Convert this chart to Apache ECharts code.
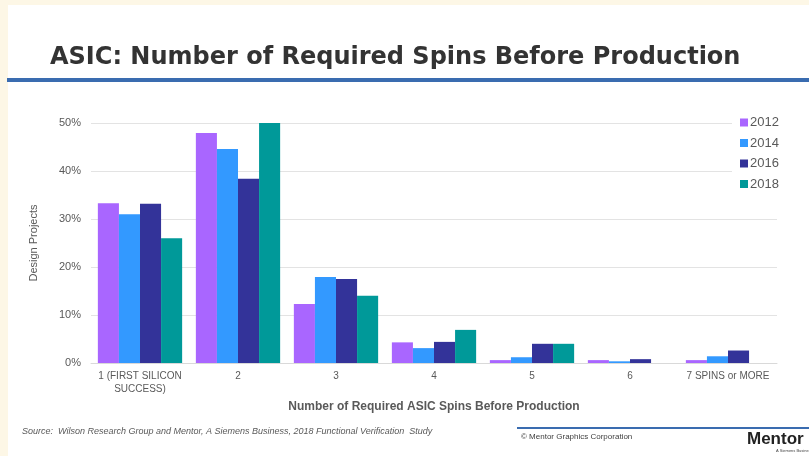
<!DOCTYPE html>
<html>
<head>
<meta charset="utf-8">
<script src="https://cdn.jsdelivr.net/npm/echarts@6/dist/echarts.min.js"></script>
<style>
  html, body { margin: 0; padding: 0; background: #fdf7e6; }
  #chart { width: 809px; height: 456px; }
</style>
</head>
<body>
<div id="chart"></div>
<script>
// Spins before production, share of design projects (%)
const categories = ['1 (FIRST SILICON\nSUCCESS)', '2', '3', '4', '5', '6', '7 SPINS or MORE'];
const years = ['2012', '2014', '2016', '2018'];
const values2012 = [33.3, 47.9, 12.3, 4.3, 0.6, 0.6, 0.6];
const values2014 = [31.0, 44.6, 17.9, 3.1, 1.2, 0.35, 1.4];
const values2016 = [33.2, 38.4, 17.5, 4.4, 4.0, 0.8, 2.6];
const values2018 = [26.0, 50.0, 14.0, 6.9, 4.0, 0, 0];
const yearColors = ['#a966ff', '#3399ff', '#333399', '#009999'];

const seriesValues = [values2012, values2014, values2016, values2018];

const chart = echarts.init(document.getElementById('chart'), null, { renderer: 'canvas' });

chart.setOption({
  backgroundColor: 'transparent',
  animation: false,
  graphic: [
    // slide area
    { type: 'rect', shape: { x: 8, y: 5, width: 801, height: 451 }, style: { fill: '#ffffff' }, z: -10 },
    // title rule
    { type: 'rect', shape: { x: 7, y: 78, width: 802, height: 4 }, style: { fill: '#3a6cb0' }, z: -5 },
    // footer rule
    { type: 'rect', shape: { x: 517, y: 427, width: 292, height: 2 }, style: { fill: '#3a6cb0' }, z: -5 },
    {
      type: 'text', left: 50, top: 46,
      style: {
        text: 'ASIC: Number of Required Spins Before Production',
        font: 'bold 24px "DejaVu Sans", Verdana, sans-serif', fill: '#333333'
      }
    },
    {
      type: 'text', left: 22, top: 427,
      style: {
        text: 'Source:  Wilson Research Group and Mentor, A Siemens Business, 2018 Functional Verification  Study',
        font: 'italic 9px "Liberation Sans", Arial, sans-serif', fill: '#595959'
      }
    },
    {
      type: 'text', left: 521, top: 433,
      style: {
        text: '© Mentor Graphics Corporation',
        font: '8px "Liberation Sans", Arial, sans-serif', fill: '#404040'
      }
    },
    {
      type: 'text', left: 747, top: 431,
      style: {
        text: 'Mentor',
        font: 'bold 17px "Liberation Sans", Arial, sans-serif', fill: '#222222'
      }
    },
    {
      type: 'text', left: 776, top: 449,
      style: {
        text: 'A Siemens Business',
        font: '4px "Liberation Sans", Arial, sans-serif', fill: '#444444'
      }
    }
  ],
  legend: {
    orient: 'vertical',
    left: 732, top: 110,
    data: years,
    itemWidth: 8, itemHeight: 8,
    itemGap: 7.5,
    icon: 'rect',
    backgroundColor: '#ffffff',
    padding: [6, 34, 6, 8],
    textStyle: { color: '#595959', fontSize: 13, fontFamily: '"Liberation Sans", Arial, sans-serif', padding: [0, 0, 0, -3] }
  },
  grid: { left: 91, right: 32, top: 123, bottom: 93, containLabel: false },
  xAxis: {
    type: 'category',
    data: categories,
    name: 'Number of Required ASIC Spins Before Production',
    nameLocation: 'middle',
    nameGap: 37,
    nameTextStyle: { color: '#595959', fontSize: 12, fontWeight: 'bold', fontFamily: '"Liberation Sans", Arial, sans-serif' },
    axisLine: { lineStyle: { color: '#d9d9d9' } },
    axisTick: { show: false },
    axisLabel: { color: '#595959', fontSize: 10, lineHeight: 13, margin: 7, interval: 0, fontFamily: '"Liberation Sans", Arial, sans-serif' }
  },
  yAxis: {
    type: 'value',
    min: 0, max: 50, interval: 10,
    name: 'Design Projects',
    nameLocation: 'middle',
    nameGap: 52,
    nameTextStyle: { color: '#595959', fontSize: 11, fontFamily: '"Liberation Sans", Arial, sans-serif' },
    axisLine: { show: false },
    axisTick: { show: false },
    splitLine: { lineStyle: { color: '#e3e3e3' } },
    axisLabel: { color: '#595959', fontSize: 11, margin: 10, formatter: '{value}%', fontFamily: '"Liberation Sans", Arial, sans-serif' }
  },
  series: years.map((y, i) => ({
    name: y,
    type: 'bar',
    data: seriesValues[i],
    barGap: '0%',
    barCategoryGap: '14%',
    itemStyle: { color: yearColors[i] }
  }))
});
</script>
</body>
</html>
